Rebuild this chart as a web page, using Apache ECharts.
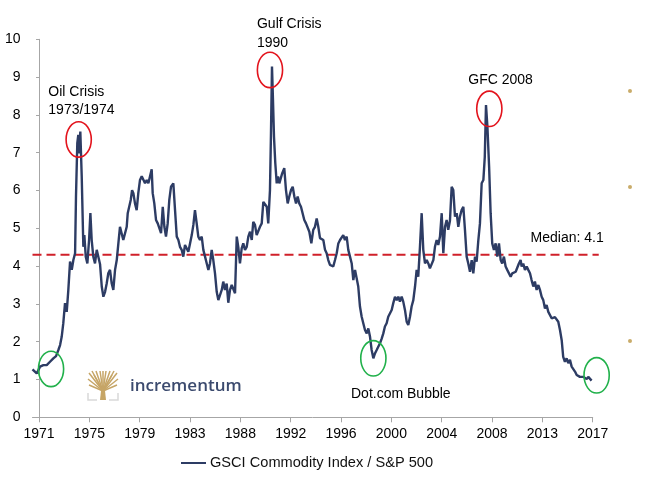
<!DOCTYPE html>
<html>
<head>
<meta charset="utf-8">
<script src="https://cdn.jsdelivr.net/npm/echarts@6/dist/echarts.min.js"></script>
<style>
html,body{margin:0;padding:0;background:#fff;}
#chart{width:656px;height:490px;}
</style>
</head>
<body>
<div id="chart"></div>
<script>
// x position in months (ticks every 50 months, first tick = 1971)
const months = [
  -6.5,-2.3,1.0,4.3,7.6,10.9,14.2,16.9,19.2,20.9,22.5,24.1,25.8,27.5,29.1,30.8,32.5,34.1,35.8,36.7,38.0,39.0,40.0,41.0,42.4,44.0,45.0,46.4,48.0,49.7,51.0,52.3,53.9,55.6,57.3,58.9,60.6,
  62.3,63.9,65.6,67.2,68.8,70.5,72.2,73.8,75.5,77.2,78.8,80.4,82.1,83.7,85.4,87.1,88.1,89.7,91.1,92.4,93.7,95.3,97.0,98.6,100.3,102.0,103.6,105.3,107.0,108.6,110.2,111.9,112.9,114.5,116.2,117.9,119.5,121.2,122.9,124.5,126.1,127.8,129.4,131.1,
  133.4,135.1,136.8,138.4,140.0,141.7,143.3,145.0,146.7,148.3,150.0,151.7,153.3,154.9,156.6,158.2,159.9,161.6,163.2,164.9,166.6,168.2,169.8,171.5,173.1,174.8,176.5,178.1,179.8,181.5,183.0,184.7,186.4,188.0,189.7,191.4,193.0,194.7,196.4,197.9,199.6,
  201.3,202.9,204.6,206.3,207.9,209.6,211.3,212.8,214.5,216.2,217.8,219.5,221.2,222.8,224.5,226.2,227.7,229.4,230.4,231.4,232.4,233.4,234.7,236.1,237.4,238.7,240.1,241.6,243.6,245.3,247.0,248.6,250.3,252.0,253.6,255.3,256.9,258.5,260.2,261.9,263.5,265.2,266.9,268.5,
  270.5,272.4,274.1,275.8,277.4,279.1,280.8,282.4,284.1,285.7,287.3,289.0,290.7,292.3,294.0,295.7,297.3,299.0,300.6,302.2,303.9,305.6,307.2,308.9,310.6,312.2,313.9,315.5,317.1,318.8,320.5,322.1,323.8,325.5,327.1,328.8,330.4,332.1,333.7,335.4,337.0,338.7,
  340.4,342.0,343.6,345.3,346.9,348.6,350.3,351.9,353.6,355.3,356.9,358.5,360.2,361.8,363.5,365.2,366.8,368.5,370.1,371.8,373.5,375.1,376.7,378.4,380.1,381.7,383.4,385.1,386.7,388.3,390.0,391.7,393.3,395.0,396.6,398.3,400.0,401.6,403.3,404.9,406.5,408.2,
  409.9,411.5,413.2,414.9,416.5,418.1,419.8,421.5,423.1,424.8,426.4,428.1,429.8,431.4,433.1,434.7,436.4,438.0,439.7,441.4,442.8,444.0,445.4,447.1,448.6,450.2,451.9,453.6,455.2,456.9,458.6,460.1,461.8,463.5,465.1,466.8,468.5,470.1,471.8,473.5,475.1,476.7,478.4,
  479.4,481.0,482.7,484.4,486.0,487.7,489.3,491.0,492.6,494.3,496.0,497.6,499.3,500.9,502.6,504.2,505.9,507.5,509.2,510.8,512.5,514.2,515.8,517.5,519.2,520.7,522.4,524.1,525.7,527.4,529.1,530.7,532.4,534.1,535.7,537.3,539.0,540.7,542.3,544.0,545.6,547.3,548.9
];
// GSCI Commodity Index / S&P 500 ratio
const values = [
  1.27,1.16,1.34,1.38,1.38,1.47,1.56,1.62,1.78,1.91,2.13,2.49,3.02,2.79,3.37,4.12,3.90,4.16,4.34,5.84,7.25,7.47,6.98,7.56,6.37,4.51,4.82,4.25,4.07,4.69,5.40,4.69,4.25,4.07,4.43,4.47,4.05,
  3.46,3.19,3.32,3.54,3.81,3.90,3.54,3.37,3.90,4.16,4.60,5.04,5.09,4.69,4.69,5.04,5.40,5.44,5.75,6.01,5.93,5.66,5.48,5.93,6.28,6.38,6.37,6.19,6.28,6.19,6.37,6.56,5.93,5.66,5.22,5.13,5.17,4.87,5.57,5.04,4.78,5.13,5.75,6.10,
  6.19,5.48,4.78,4.69,4.51,4.43,4.25,4.56,4.51,4.38,4.60,4.82,5.09,5.48,5.13,4.78,4.69,4.78,4.43,4.25,4.07,3.90,4.07,4.43,4.16,3.81,3.32,3.10,3.06,3.37,3.59,3.37,3.54,3.03,3.37,3.50,3.46,3.28,4.78,4.51,4.07,
  4.47,4.60,4.43,4.51,4.78,4.91,4.69,5.17,5.09,4.82,4.78,5.04,5.13,5.70,5.66,5.57,5.13,6.01,7.51,9.28,8.39,7.42,6.72,6.19,6.37,6.19,6.32,6.46,6.59,6.01,5.66,5.84,6.01,6.10,5.84,5.66,5.84,5.66,5.57,5.53,5.22,5.13,5.09,4.91,
  4.60,4.96,5.04,5.26,5.04,4.74,4.74,4.69,4.43,4.34,4.16,4.03,4.03,3.99,4.16,4.34,4.60,4.69,4.74,4.82,4.69,4.78,4.43,4.25,4.07,3.63,3.90,3.94,3.46,2.93,2.66,2.49,2.31,2.22,2.35,2.13,1.78,1.56,1.69,1.78,1.83,1.96,
  2.08,2.22,2.40,2.49,2.66,2.62,2.84,3.02,3.19,3.10,3.19,3.06,3.19,3.06,2.84,2.53,2.44,2.66,2.93,3.10,3.46,3.90,3.72,4.51,5.40,4.43,4.07,4.16,4.07,3.94,3.99,4.16,4.51,4.69,4.56,4.78,5.40,4.34,5.04,5.22,4.96,5.20,
  6.10,6.01,5.31,5.40,5.04,5.31,5.48,5.57,4.96,4.25,4.07,3.85,4.16,3.81,4.25,4.12,4.69,5.13,6.19,6.28,6.89,8.26,7.69,6.63,5.40,4.60,4.43,4.60,4.25,4.60,4.16,4.07,4.25,3.99,3.90,3.85,3.72,3.81,3.76,3.85,3.90,4.07,4.16,
  3.99,4.07,3.90,3.99,3.90,3.81,3.63,3.46,3.59,3.37,3.50,3.37,3.19,3.10,2.88,2.97,2.79,2.75,2.62,2.66,2.65,2.62,2.53,2.31,2.04,1.60,1.47,1.56,1.43,1.52,1.34,1.38,1.21,1.12,1.07,1.07,1.12,1.07,1.12,1.01,1.07,1.03,0.97
];
const tickLabels = ['1971','1975','1979','1983','1988','1992','1996','2000','2004','2008','2013','2017'];
const tickMonths = [0,50,100,150,200,250,300,350,400,450,500,550];
const seriesName = 'GSCI Commodity Index / S&P 500';
const medianLevel = 4.3;
const medianText = 'Median: 4.1';
const notes = [
  {text:'Oil Crisis\n1973/1974', m:9.2, v:8.37},
  {text:'Gulf Crisis\n1990', m:216.5, v:10.15},
  {text:'GFC 2008', m:426.4, v:8.92},
  {text:'Dot.com Bubble', m:309.9, v:0.62},
  {text:medianText, m:488.3, v:4.74}
];
const rings = [
  {m:39.4, v:7.35, kind:'peak'},
  {m:229.4, v:9.19, kind:'peak'},
  {m:447.3, v:8.16, kind:'peak'},
  {m:11.9, v:1.28, kind:'low'},
  {m:332.1, v:1.56, kind:'low'},
  {m:553.9, v:1.11, kind:'low'}
];

const FONT = '"Liberation Sans", Arial, sans-serif';
const chart = echarts.init(document.getElementById('chart'), null, {renderer:'canvas'});
const option = {
  animation: false,
  backgroundColor: '#fff',
  grid: {left: 32.5, right: 63.3, top: 39.3, bottom: 72.7, containLabel: false},
  legend: {
    left: 181, top: 455.5, padding: 0,
    icon: 'rect', itemWidth: 25, itemHeight: 2, itemGap: 5,
    textStyle: {fontFamily: FONT, fontSize: 14.6, color: '#111', padding: [0,0,0,-1]},
    data: [seriesName]
  },
  xAxis: {
    type: 'value', min: months[0], max: tickMonths[tickMonths.length-1],
    axisLine: {show: true, lineStyle: {color: '#A6A6A6', width: 1}},
    axisTick: {show: true, customValues: tickMonths, length: 5, lineStyle: {color: '#A6A6A6'}},
    axisLabel: {customValues: tickMonths, margin: 10, fontFamily: FONT, fontSize: 14, color: '#000',
      formatter: (v) => tickLabels[Math.round(v/50)]},
    splitLine: {show: false}
  },
  yAxis: {
    type: 'value', min: 0, max: 10, interval: 1,
    axisLine: {show: true, lineStyle: {color: '#A6A6A6', width: 1}},
    axisTick: {show: true, length: 3, lineStyle: {color: '#A6A6A6'}},
    axisLabel: {margin: 12, fontFamily: FONT, fontSize: 14, color: '#000'},
    splitLine: {show: false}
  },
  series: [{
    name: seriesName,
    type: 'line',
    data: months.map((m, i) => [m, values[i]]),
    symbol: 'none', showSymbol: false,
    lineStyle: {color: '#2D3C64', width: 2.4},
    itemStyle: {color: '#2D3C64'},
    z: 3
  }]
};
chart.setOption(option);

function px(m, v){ return chart.convertToPixel({gridIndex:0}, [m, v]); }
const g = [];
// median dashed line
const a = px(months[0], medianLevel), b = px(556, medianLevel);
g.push({type:'line', shape:{x1:a[0], y1:a[1], x2:b[0], y2:b[1]},
  style:{stroke:'#D0202A', lineWidth:1.8, lineDash:[9,5]}, z: 2});
rings.forEach(r => {
  const p = px(r.m, r.v);
  g.push({type:'ellipse', shape:{cx:p[0], cy:p[1], rx:12.6, ry:17.7},
    style:{fill:'none', stroke: r.kind === 'peak' ? '#E3141D' : '#21B14B', lineWidth:1.6}, z: 10});
});
notes.forEach(n => {
  const p = px(n.m, n.v);
  g.push({type:'text', x:p[0], y:p[1], style:{text:n.text, fontFamily:'Liberation Sans', fontSize:14,
    fill:'#000', align:'left', verticalAlign:'middle', lineHeight:18.5}, z: 10});
});
// decorative dots at right edge
[[630,91],[630,187],[630,341]].forEach(d => g.push({type:'circle', shape:{cx:d[0], cy:d[1], r:2}, style:{fill:'#C9AC6A'}}));
// incrementum logo
const gold = '#C6A566';
const branches = [[89,373],[92,371],[96,371],[100,371],[103,371],[106,371],[110,371],[114,371],[117,373],[88,379],[118,379],[89,385],[117,385],[94,375],[112,375]];
branches.forEach(e => g.push({type:'line', shape:{x1:103, y1:391, x2:e[0], y2:e[1]}, style:{stroke:gold, lineWidth:1.5}}));
g.push({type:'polygon', shape:{points:[[100,400],[101.5,386],[104.5,386],[106,400]]}, style:{fill:gold}});
g.push({type:'polyline', shape:{points:[[88,393],[88,400],[97,400]]}, style:{stroke:'#D9D9D9', lineWidth:1.5, fill:'none'}});
g.push({type:'polyline', shape:{points:[[118,393],[118,400],[109,400]]}, style:{stroke:'#D9D9D9', lineWidth:1.5, fill:'none'}});
g.push({type:'text', x:130, y:386, style:{text:'incrementum', fontFamily:'Open Sans', fontWeight:600, fontSize:17,
  fill:'#3B4A6E', align:'left', verticalAlign:'middle'}});
chart.setOption({graphic: g});
</script>
</body>
</html>
